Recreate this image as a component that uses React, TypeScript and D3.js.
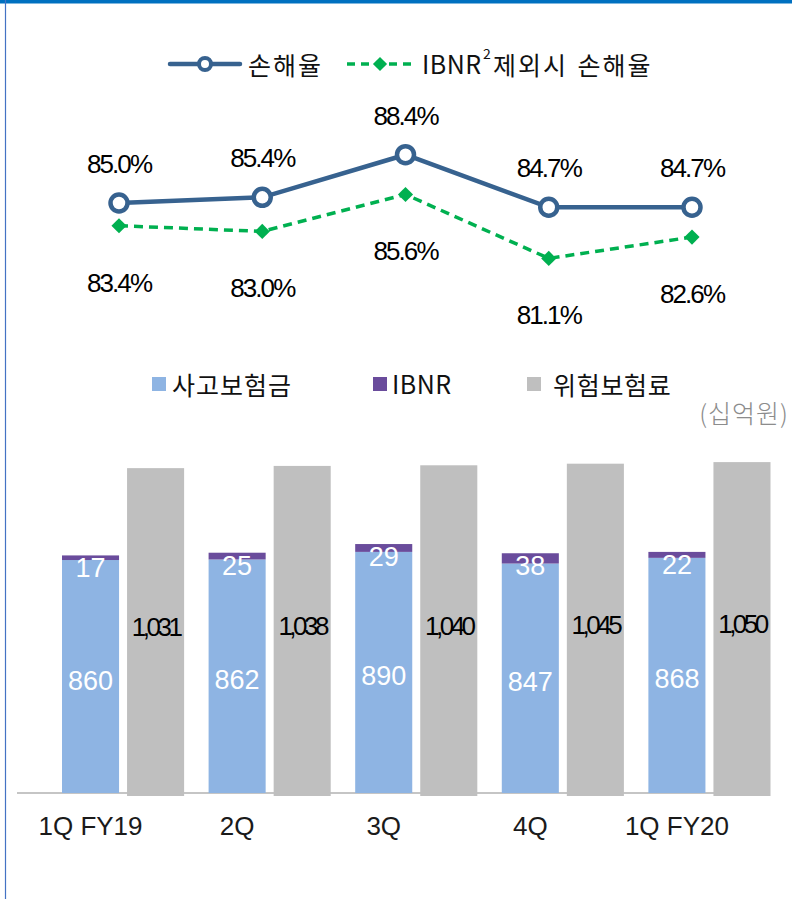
import React from 'react';
import * as d3 from 'd3';

const categories = ['1Q FY19', '2Q', '3Q', '4Q', '1Q FY20'];
const lossRatio = [85.0, 85.4, 88.4, 84.7, 84.7];
const lossRatioExIbnr = [83.4, 83.0, 85.6, 81.1, 82.6];
const claims = [860, 862, 890, 847, 868];
const ibnr = [17, 25, 29, 38, 22];
const riskPremium = [1031, 1038, 1040, 1045, 1050];

const W = 792;
const H = 899;
const KR = "'Noto Sans CJK KR', 'Noto Sans', sans-serif";
const NUM = "'Liberation Sans', Arial, sans-serif";

const BLUE_LINE = '#37628F';
const GREEN = '#00B050';
const BAR_BLUE = '#8EB4E3';
const BAR_PURPLE = '#6A4C9C';
const BAR_GRAY = '#BFBFBF';

const diamond = (size: number) => d3.symbol().type(d3.symbolSquare).size(size)()!;

export default function App() {
  const xGroup = d3.scaleBand<string>().domain(categories).range([62, 770.5]).paddingInner(0.167).paddingOuter(0);
  const xInner = d3.scaleBand<string>().domain(['stack', 'premium']).range([0, xGroup.bandwidth()]).paddingInner(0.123);
  const yStack = d3.scaleLinear().domain([0, 1000]).range([793, 793 - 270.9]);
  const yPrem = d3.scaleLinear().domain([0, 1000]).range([796, 796 - 318]);

  const xLine = d3.scalePoint<string>().domain(categories).range([119, 692]);
  const yLine = d3.scaleLinear().domain([80, 90]).range([274, 132]);

  const lineGen = d3.line<number>().x((_, i) => xLine(categories[i])!).y((d) => yLine(d));

  const bw = xInner.bandwidth();

  return (
    <svg width={W} height={H} style={{ position: 'absolute', left: 0, top: 0, background: '#fff' }}>
      <rect x={0} y={0} width={W} height={H} fill="#fff" />
      {/* frame */}
      <rect x={0} y={0} width={W} height={3.5} fill="#0070C0" />
      <line x1={5.5} y1={0} x2={5.5} y2={H} stroke="#4472C4" strokeWidth={1.2} />

      {/* top legend */}
      <g>
        <line x1={170} y1={64} x2={240} y2={64} stroke={BLUE_LINE} strokeWidth={4.5} strokeLinecap="round" />
        <circle cx={205} cy={64} r={6} fill="#fff" stroke={BLUE_LINE} strokeWidth={4} />
        <text x={248} y={75} fontFamily={KR} fontSize={25} letterSpacing={2} fill="#111">손해율</text>
        <line x1={347} y1={64} x2={416} y2={64} stroke={GREEN} strokeWidth={3.5} strokeDasharray="8,6" />
        <path d={diamond(100)} transform="translate(380,64) rotate(45)" fill={GREEN} />
        <text x={422} y={74} fontFamily={KR} fontSize={25} letterSpacing={0.5} fill="#111">IBNR</text>
        <text x={483} y={59} fontFamily={KR} fontSize={14} fill="#111">2</text>
        <text x={493} y={75} fontFamily={KR} fontSize={25} letterSpacing={2} wordSpacing={2} fill="#111">제외시 손해율</text>
      </g>

      {/* lines */}
      <path d={lineGen(lossRatioExIbnr)!} fill="none" stroke={GREEN} strokeWidth={3.5} strokeDasharray="9,6" />
      <path d={lineGen(lossRatio)!} fill="none" stroke={BLUE_LINE} strokeWidth={4.5} />
      {lossRatioExIbnr.map((v, i) => (
        <path key={'d' + i} d={diamond(115)}
          transform={`translate(${xLine(categories[i])},${yLine(v)}) rotate(45)`} fill={GREEN} />
      ))}
      {lossRatio.map((v, i) => (
        <circle key={'c' + i} cx={xLine(categories[i])} cy={yLine(v)} r={8.5} fill="#fff" stroke={BLUE_LINE} strokeWidth={4.5} />
      ))}
      {lossRatio.map((v, i) => (
        <text key={'lt' + i} x={xLine(categories[i])} y={yLine(v) - 30} textAnchor="middle"
          fontFamily={NUM} fontSize={26} letterSpacing={-1.9} fill="#000">{v.toFixed(1)}%</text>
      ))}
      {lossRatioExIbnr.map((v, i) => (
        <text key={'gt' + i} x={xLine(categories[i])} y={yLine(v) + 66} textAnchor="middle"
          fontFamily={NUM} fontSize={26} letterSpacing={-1.9} fill="#000">{v.toFixed(1)}%</text>
      ))}

      {/* bar legend */}
      <g>
        <rect x={152} y={377} width={14} height={14} fill={BAR_BLUE} />
        <text x={172} y={395} fontFamily={KR} fontSize={25} letterSpacing={1} fill="#111">사고보험금</text>
        <rect x={373} y={377} width={14} height={14} fill={BAR_PURPLE} />
        <text x={392} y={394} fontFamily={KR} fontSize={25} letterSpacing={0.5} fill="#111">IBNR</text>
        <rect x={527} y={377} width={14} height={14} fill={BAR_GRAY} />
        <text x={553} y={395} fontFamily={KR} fontSize={25} letterSpacing={0.7} fill="#111">위험보험료</text>
        <text x={789} y={423} textAnchor="end" fontFamily={KR} fontSize={25} letterSpacing={1} fontWeight={300} fill="#8C8C8C">(십억원)</text>
      </g>

      {/* axis */}
      <line x1={17} y1={793} x2={750} y2={793} stroke="#8C8C8C" strokeWidth={1.2} />

      {/* bars */}
      {categories.map((c, i) => {
        const gx = xGroup(c)!;
        const sx = gx + xInner('stack')!;
        const px = gx + xInner('premium')!;
        const yC = yStack(claims[i]);
        const yI = yStack(claims[i] + ibnr[i]);
        const yP = yPrem(riskPremium[i]);
        return (
          <g key={c}>
            <rect x={sx} y={yC} width={bw} height={yStack(0) - yC} fill={BAR_BLUE} />
            <rect x={sx} y={yI} width={bw} height={yC - yI} fill={BAR_PURPLE} />
            <rect x={px} y={yP} width={bw} height={yPrem(0) - yP} fill={BAR_GRAY} />
            <text x={sx + bw / 2} y={(yC + yStack(0)) / 2 + 13} textAnchor="middle" fontFamily={NUM} fontSize={27} fill="#fff">
              {claims[i]}
            </text>
            <text x={sx + bw / 2} y={yI + 22} textAnchor="middle" fontFamily={NUM} fontSize={27} fill="#fff">
              {ibnr[i]}
            </text>
            <text x={px + bw / 2} y={(yP + yPrem(0)) / 2 + 4} textAnchor="middle" fontFamily={NUM} fontSize={26} letterSpacing={-3.5} fill="#000">
              {d3.format(',')(riskPremium[i])}
            </text>
            <text x={sx + bw / 2} y={835} textAnchor="middle" fontFamily={NUM} fontSize={26} fill="#1a1a1a">
              {c}
            </text>
          </g>
        );
      })}
    </svg>
  );
}
